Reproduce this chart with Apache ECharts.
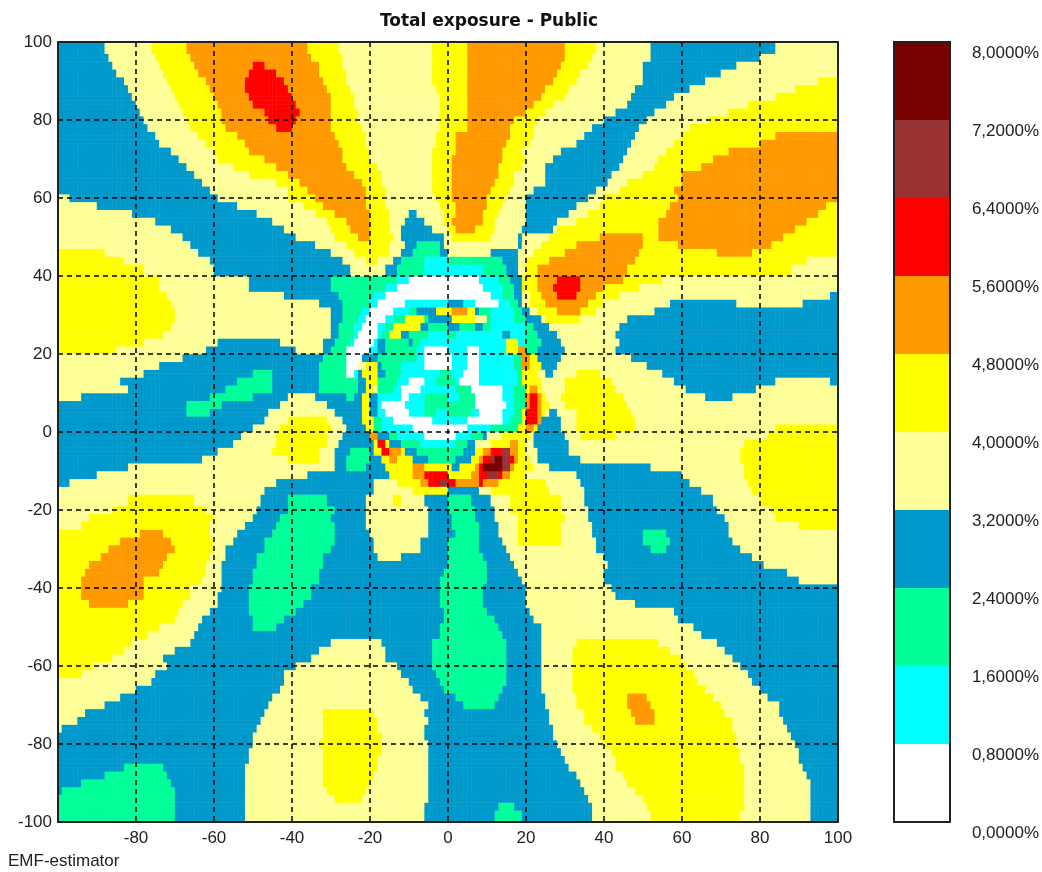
<!DOCTYPE html>
<html>
<head>
<meta charset="utf-8">
<script src="https://cdn.jsdelivr.net/npm/echarts@6/dist/echarts.min.js"></script>
<style>html,body{margin:0;padding:0;background:#fff}#c{width:1042px;height:872px}</style>
</head>
<body>
<div id="c"></div>
<script>
// Band letters and colours used by the row strings
const bandLetters = ["W","C","G","B","P","Y","O","R","M","D"];
const bandColors = ["#FFFFFF","#00FFFF","#00FF99","#0099CC","#FFFF99","#FFFF00","#FF9900","#FF0000","#993333","#770000"];
const bandWidth = 0.8;
const titleText = "Total exposure - Public";
const footerText = "EMF-estimator";
// Each row: "top y of the row: band + x where the run ends ..."
const rows = [
"100: B-87.5 P-76 Y-66.5 O-36 Y-28 P-4 Y5 O30 Y38 P52 B84 P",
"97: B-87 P-75 Y-65.5 O-34.5 Y-27 P-4 Y5 O29.7 Y37 P52 B80 P",
"95: B-86 P-74 Y-64.5 O-50 R-46.5 O-33 Y-26.5 P-4 Y5 O29 Y36 P50 B74 P",
"93: B-84.5 P-73 Y-63.5 O-51 R-43.5 O-32.5 Y-26 P-4 Y5 O28 Y34.5 P50.5 B70 P",
"91: B-83 P-72 Y-62 O-51.6 R-42 O-31.5 Y-25.5 P-4 Y5 O27 Y33 P50 B66 P95 Y",
"89: B-82 P-71 Y-61 O-51.5 R-41 O-31 Y-25 P-3 Y5 O25.5 Y31.5 P48 B62 P89 Y",
"87: B-81 P-70 Y-60 O-50.8 R-40 O-30 Y-24 P-2 Y5 O24 Y30 P47 B58 P84 Y",
"85: B-80 P-69 Y-59 O-50 R-39 O-30 Y-24 P-2 Y5 O22 Y27.5 P46 B56 P77 Y",
"83: B-79.4 P-68 Y-58 O-47.4 R-38.4 O-29.5 Y-23 P-1.5 Y5 O20 Y24.6 P43.5 B53 P72 Y",
"81: B-78 P-67 Y-57.5 O-46 R-38.5 O-29.5 Y-22.5 P-2 Y5 O17.3 Y23 P40 B51 P67.5 Y",
"79: B-77 P-66 Y-57 O-44 R-40 O-29.5 Y-22 P-2 Y5 O16 Y22 P37 B49 P62 Y",
"77: B-74.7 P-63.5 Y-54 O-28.5 Y-21 P-3 Y2.5 O15.6 Y22 P35 B48 P60 Y84 O",
"75: B-73.5 P-62 Y-52 O-28 Y-21 P-3 Y2 O15 Y21 P33 B47 P58 Y80 O",
"73: B-71 P-60 Y-50.8 O-27 Y-20 P-4 Y2 O14.4 Y19.5 P29 B46.4 P56 Y72.5 O",
"71: B-69 P-58.5 Y-47 O-27 Y-19.6 P-4 Y1.5 O14 Y20 P27 B45.5 P54 Y68 O",
"69: B-67 P-54.6 Y-44 O-26.4 Y-18 P-4 Y1 O13.5 Y18.6 P25.5 B44 P53 Y65 O",
"67: B-65 P-51 Y-40.5 O-24 Y-16.5 P-4 Y1 O13 Y17.5 P25 B42 P50 Y60 O",
"65: B-62.7 P-44 Y-38 O-21.7 Y-16.6 P-4 Y1 O12 Y17 P24.6 B41 P46.4 Y60 O",
"63: B-61 P-41 Y-36 O-21 Y-16 P-4 Y1 O11 Y16 P22 B38 P44 Y58.5 O",
"61: P-97 B-58.5 P-40.5 Y-34 O-21 Y-15.7 P-3 Y1 O10 Y15 P20 B36.5 P40 Y59 O",
"59: P-90 B-54 P-37 Y-32 O-21 Y-15.5 P-2 Y2 O10 Y14 P20 B33 P39 Y57 O97 Y",
"57: P-80.7 B-48.6 P-33.6 Y-28.7 O-20 Y-15 P-10 B-7.5 P-1 Y2 O9.5 Y13.5 P20 B31 P36 Y56 O95 Y",
"55: P-74.7 B-45 P-31 Y-26 O-20 Y-15 P-11 B-6 P-0.5 Y1.5 O9 Y12.5 P20 B28 P33 Y54.5 O92 Y",
"53: P-71 B-41.5 P-29.6 Y-24.5 O-20 Y-14.6 P-11.5 B-4 P0 Y2 O7.5 Y12 P19.5 B26.7 P28 Y54 O89 Y",
"51: P-68 B-38.5 P-29 Y-23 O-20 Y-14 P-12 B-1 P1 Y11 P18.5 B19.5 P26 Y39 O50 Y54 O86 Y",
"49: P-66 B-33.7 P-26 Y-15 P-11 B-8 G-2 B-1 P18.5 B19 P24 Y33 O50.5 Y59 O83 Y",
"47: Y-88 P-64 B-30 P-23.5 Y-15.4 P-12 B-9 G-2 B0 P11 B18.5 P22 Y30.5 O49 Y69 O78 Y",
"45: Y-83 P-61 B-27 P-20.5 Y-17.5 P-14 B-12 G-5.5 C0 G14 B18.5 P20 Y26 O48 Y92 P",
"43: Y-78 P-60 B-25 P-16 B-13 G-6 C9 G15 B18.5 P20 Y23 O46.5 Y88 P",
"40: Y-74 P-51 B-30 G-12.7 C-10.2 W7.7 C12.8 G15.8 B19.2 Y23 O27.8 R34 O45 Y55 P",
"38: Y-74 P-51 B-30 G-16 C-13 W9.4 C13.7 G16.7 B19.2 Y23 O27.4 R34 O40 Y49 P",
"36: Y-72 P-41.5 B-27.7 G-18.5 C-16 W11.5 C14 G17.5 B19.2 P21.4 Y24 O28.5 R33 O38 Y44 P98 B",
"34: Y-71 P-33 B-27 G-20.4 C-17.5 W-11 C0.5 B4.3 C7 W13 C15.8 G18 B19.5 P21.5 Y25 O36 Y40 P57 B74 P91 B",
"32: Y-70 P-29.5 B-27.3 G-21.7 C-19.6 W-14 C-10 G-7.5 B-2.5 Y1.5 O4.7 Y7.3 B8.5 G11.5 C17.5 G19.2 B21.4 P23 Y28 O34 Y38 P53 B",
"30: Y-70 P-30 B-27 G-23 C-21 W-16 C-14 G-10.5 Y-6 G-4.5 B1 Y6.8 P9.8 B10.5 G11.5 C17 G20.5 B24 P25 Y34 P46 B",
"28: Y-71 P-30 B-27.7 G-24 C-22 W-17.5 C-16 G-14 Y-7 B-4.5 G0 B3.4 G6.8 B9.4 G11 C20 G22 B26 P44 B",
"26: Y-73 P-30 B-28 G-24.3 C-23 W-18 C-16.5 G-15 Y-11.5 B-9.5 G-4.5 C0 G1.7 C14 B16 C20 G23 B27.8 P43 B",
"24: Y-78 P-59 B-43 P-32 B-29 G-25 C-24 W-19 C-17.5 B-16 G-10 B-8.5 G-6.5 C15.4 Y18.4 C20 G24 B29.5 P44 B",
"22: Y-85 P-62 B-39 P-32 B-30 G-25.5 W-20 C-18 B-15.5 G-8 C-5.5 W0 C5.1 W7.7 C15.4 Y18.4 O20 G23 B30 P43 B",
"20: P-68 B-32 G-26 W-21.7 B-18 G-8 C-6 W0.9 C5.1 W8 C17 G19.2 O21.4 Y23 B28.6 P47 B",
"18: P-74 B-33 G-26 W-23 P-21.3 Y-18.3 B-16.6 G-11.5 C-6 W1.3 C4.7 W8 C17.5 G19.2 O21.4 Y24.4 B28.2 P51 B",
"16: P-78 B-50 G-45 B-33 G-26 W-24 C-23 B-21.7 Y-18.3 B-16 G-12 C-2 G1.3 C3.8 W8.5 C18 G19.2 Y23.5 P24.8 B27 P33 Y39 P55 B",
"14: P-84 B-54 G-45 B-33 G-22.5 B-21.3 Y-18.3 G-13 C-9.7 W-6.3 C-3 G2 C3.4 W8.5 C18 G19.2 Y24.4 P30.5 Y42 P58 B84 P98 B",
"12: P-81.5 B-56.5 G-45 B-33 G-23 B-21.3 Y-19 P-18.3 B-18 G-13.6 C-12 W-6.7 C1.7 G6.4 W14 C17.5 G19.6 Y21 O23 Y24.4 P30 Y43.5 P61 B79 P",
"10: P-93.5 B-61 G-50 B-40.5 P-33.5 B-26.4 G-24 B-21.7 Y-19.6 B-18.3 C-12.3 W-10 C-6 G0 C3 G7.3 W14.5 C17.5 G19.6 O21.4 R23 O24.4 Y25.2 P29 Y45 P66 B73 P",
"8: B-67 G-58 B-43 P-31 B-22 Y-19.6 B-18.3 C-16.6 W-11 C-6 G7.3 W15 C17.5 G19.6 O21 R23 O24.4 Y25.6 P30 Y46 P",
"6: B-67 G-61 B-46 P-28.5 B-21.7 Y-19.6 B-18.3 C-16.2 W-10 C-6 G-3 C0 G6 C8.5 W14.5 C17 G19.2 Y20 R23 O24.4 Y25.2 P25.6 B28.2 P33 Y47 P",
"4: B-47 P-41 Y-31 P-27.3 B-21.7 Y-19 G-17.4 C-13.6 W-4.2 C5 W13.7 C16.2 G18.8 Y20 R22.6 O24 Y24.4 B29 P33 Y48 P",
"2: B-50 P-43 Y-30 P-26.4 B-21.3 Y-19 G-16.6 C-9 W5.1 C11 G18 Y20 O22 Y23.5 B29.5 P33 Y48 P83.6 Y",
"0: B-52.5 P-44 Y-31 P-27.3 B-20.2 O-18.3 Y-17.5 B-15.3 G-13 C-5.5 W2.5 C6.4 G9.4 B10.5 P14.5 Y21 P22.2 B30.5 P34.5 Y43 P82 Y",
"-2: B-54.6 P-44 Y-31 P-28.1 B-19 Y-18.3 R-15.7 Y-14.5 B-11.5 G-6.7 C2.5 G5 B6.8 P11 Y16.2 O18.3 Y20 P22 B31 P76 Y",
"-4: B-58.6 P-44.6 Y-32.5 P-29 B-25 G-20.4 B-18.7 Y-17.4 R-15 O-12.3 Y-11 B-8 G3.8 B6.8 Y9.4 O11 R14 M15.8 R16.5 O18.3 Y20 P22.6 B31 P75.5 Y",
"-6: B-63 P-40.5 Y-33 P-28.5 B-25.6 G-20.4 B-17.4 Y-14.9 O-12.7 Y-8.9 B-4.6 G2.5 B6.4 Y8.5 O9.4 R11 M12 D14 M16 R17 O18.3 Y21 P23 B33.6 P75 Y",
"-8: B-81.5 P-29.4 B-25.6 G-21.3 B-16 Y-9.3 O-6 Y1 B3.4 Y6.8 O8.1 R9.4 D14.5 M16.2 O17 Y22 P26 B52 P76 Y",
"-10: B-90 P-36 B-14.5 Y-8.5 O-6 R0.5 Y6.4 O8.1 R10.3 M12.8 R14 O16.2 Y20.5 P33 B60 P76 Y",
"-12: B-97 P-44 B-19 P-13 Y-7.2 O-4.6 R-2 M0.5 R2.1 O8.1 R9.4 O12.8 Y24.6 P34.5 B62.5 P77 Y",
"-14: P-46.5 B-19 P-9 Y0.5 B8 P11 Y26 P35 B65 P78 Y",
"-16: P-81.5 Y-64.5 P-48 B-40.5 G-31 B-21 P-13.5 Y-11.5 P-5.5 B0 G6 B11 P16 Y29 P35 B68 P80 Y",
"-19: P-86 Y-62 P-48.6 B-41 G-29 B-21 P-5 B0.5 G7 B12 P16.5 Y29.3 P36 B68.8 P83 Y",
"-21: P-92 Y-60 P-50 B-43 G-29.5 B-21 P-5 B1 G7.5 B12.5 P18 Y30 P36.5 B71 P84.5 Y",
"-23: P-94 Y-60.7 P-51.6 B-44 G-29 B-20.5 P-5.3 B1.5 G8 B13 P17.7 Y29 P37 B71.6 P89.6 Y",
"-25: Y-79 O-73 Y-60.5 P-54 B-44.5 G-29 B-20 P-5 B2 G8 B13.5 P18.5 Y29.5 P37.5 B50 G56.5 B72.5 P",
"-27: Y-83.7 O-71.3 Y-60 P-55 B-47 G-29 B-19 P-6.5 B0.5 G8 B14.5 P18.5 Y29 P38 B50.5 G57 B73 P",
"-29: Y-87 O-70 Y-60 P-56.5 B-47 G-30 B-19 P-7 B0 G8 B15 P38.5 B52.5 G56 B75.5 P",
"-31: Y-89 O-71.7 Y-60.5 P-57 B-49 G-32 B-17.5 P-11.5 B0 G9 B16.5 P40 B78 P",
"-33: Y-91.5 O-73 Y-62 P-57.5 B-49 G-32 B0 G10 B17.5 P41.5 B81.5 P",
"-35: Y-93 O-74.3 Y-62 P-58 B-49.7 G-33 B-1 G10 B18.5 P40.5 B87 P",
"-37: Y-93.5 O-78 Y-63 P-58 B-50 G-33 B-2 G10 B19.5 P40 B90 P",
"-39: Y-94 O-77.7 Y-66 P-58 B-50.5 G-35 B-2 G9.5 B20 P42 B",
"-41: Y-94 O-78 Y-66 P-58.5 B-50.5 G-35 B-2 G9 B20 P43 B",
"-43: Y-92 O-82.4 Y-67.7 P-59 B-50.5 G-37 B-1.5 G9.5 B20.5 P47.7 B",
"-45: Y-69 P-61 B-50.5 G-38.5 B-1 G10 B21 P58 B",
"-47: Y-70.4 P-62.5 B-50 G-41.5 B-1 G12 B22 P59 B",
"-49: Y-74 P-63.5 B-49.5 G-43.5 B-1.5 G13 B24 P63 B",
"-51: Y-77 P-64.5 B-2 G14 B24 P65.5 B",
"-53: Y-81 P-66 B-30 P-16.5 B-4 G15 B24.5 P33 Y54 P69 B",
"-55: Y-83 P-70 B-33 P-16 B-4 G15.5 B24.5 P32.5 Y57 P71.5 B",
"-57: Y-86 P-73 B-35.4 P-15.5 B-4 G15.5 B24.5 P32 Y60 P73.5 B",
"-59: Y-91.4 P-71.7 B-38.5 P-13 B-3.5 G15.5 B24.5 P32 Y61.5 P75.5 B",
"-61: Y-94 P-74.5 B-41.5 P-11.5 B-3 G15.5 B24.5 P32 Y63 P77 B",
"-63: P-76 B-42 P-10 B-2 G15 B24.5 P32 Y64.5 P78.5 B",
"-65: P-80 B-43 P-9 B-0.5 G14.5 B24.5 P32 Y66 P80 B",
"-67: P-83.7 B-44.8 P-7 B2 G13.5 B25 P33 Y46.5 O51 Y68 P82.5 B",
"-69: P-87.5 B-46 P-4.5 B4.5 G12.5 B25 P33.5 Y46 O52 Y70.5 P85 B",
"-71: P-92.6 B-47 P-31.5 Y-19 P-6 B26 P35 Y47.5 O53 Y71.5 P85.5 B",
"-73: P-95 B-47.5 P-32 Y-18 P-5 B26.5 P35 Y48 O53 Y73 P86.5 B",
"-75: P-99 B-48.5 P-32 Y-17.5 P-5.5 B27 P37.5 Y73.5 P87 B",
"-77: B-49.5 P-32 Y-17 P-5.5 B27.5 P39 Y74 P88 B",
"-79: B-50 P-32.5 Y-17 P-5 B28.5 P40.5 Y74.5 P89.5 B",
"-81: B-51 P-32 Y-17 P-5 B29 P42 Y75 P90 B",
"-83: B-51 P-32 Y-17.5 P-5 B30 P43 Y75 P90.5 B",
"-85: B-83 G-72.5 B-51.5 P-32 Y-18 P-5 B31 P43 Y76 P91 B",
"-87: B-88 G-71.7 B-51.5 P-32 Y-19 P-5 B33 P45 Y76 P92 B",
"-89: B-94 G-70.5 B-51.5 P-32 Y-20 P-5 B34 P46 Y76 P93 B",
"-91: B-98.6 G-70 B-51.5 P-31 Y-21 P-5 B35 P48 Y76 P93 B",
"-93: G-69.5 B-51.5 P-28.5 Y-22 P-5 B36 P50 Y76 P93.5 B",
"-95: G-69.5 B-51.5 P-5.5 B13.5 G17 B37 P51 Y76 P93 B",
"-97: G-69.5 B-51.5 P-6 B12 G19 B37 P52 Y75 P93 B"
];

// Table the library needs: one cell per 1x1 unit, value = middle of the band
const xCats = [], yCats = [];
for (let i = 0; i < 200; i++) { xCats.push(String(-99.5 + i)); yCats.push(String(-99.5 + i)); }
const parsed = rows.map(s => {
  const [top, runs] = s.split(":");
  return { top: Number(top), runs: runs.trim().split(" ").map(t => ({
    band: bandLetters.indexOf(t[0]), end: t.length > 1 ? parseFloat(t.slice(1)) : 1000 })) };
});
const cells = [];
yCats.forEach((yc, yi) => {
  const y = Number(yc);
  let r = parsed[parsed.length - 1];
  for (const p of parsed) { if (y <= p.top) r = p; else break; }
  xCats.forEach((xc, xi) => {
    const x = Number(xc);
    const run = r.runs.find(q => x < q.end) || r.runs[r.runs.length - 1];
    cells.push([xi, yi, (run.band + 0.5) * bandWidth]);
  });
});

const tickFont = { fontFamily: "Liberation Sans", fontSize: 17, color: "#222" };
const frame = { lineStyle: { color: "#222", width: 2 } };
const chart = echarts.init(document.getElementById("c"), null, { renderer: "canvas" });
chart.setOption({
  animation: false,
  backgroundColor: "#fff",
  title: [
    { text: titleText, left: 484, top: 8, textAlign: "center",
      textStyle: { fontFamily: "DejaVu Sans", fontWeight: "bold", fontSize: 17, color: "#111" } },
    { text: footerText, left: 3, top: 848,
      textStyle: { fontFamily: "Liberation Sans", fontWeight: "normal", fontSize: 17, color: "#222" } }
  ],
  grid: [
    { left: 58, top: 42, width: 780, height: 780 },
    { left: 894, top: 42, width: 56, height: 780 }
  ],
  xAxis: [
    { type: "value", gridIndex: 0, min: -100, max: 100, interval: 20, z: 10,
      axisLine: { show: true, onZero: false, ...frame }, axisTick: { show: false },
      axisLabel: { ...tickFont, margin: 8, formatter: v => (v === -100 ? "" : String(v)) },
      splitLine: { show: true, lineStyle: { color: "#000", type: [5, 4], width: 1.5 } } },
    { type: "category", gridIndex: 0, data: xCats, position: "top", z: 10,
      axisLine: { show: true, onZero: false, ...frame }, axisTick: { show: false },
      axisLabel: { show: false }, splitLine: { show: false } },
    { type: "category", gridIndex: 1, data: [""], position: "bottom", z: 10,
      axisLine: { show: true, onZero: false, ...frame }, axisTick: { show: false },
      axisLabel: { show: false }, splitLine: { show: false } },
    { type: "category", gridIndex: 1, data: [""], position: "top", z: 10,
      axisLine: { show: true, onZero: false, ...frame }, axisTick: { show: false },
      axisLabel: { show: false }, splitLine: { show: false } }
  ],
  yAxis: [
    { type: "value", gridIndex: 0, min: -100, max: 100, interval: 20, z: 10,
      axisLine: { show: true, onZero: false, ...frame }, axisTick: { show: false },
      axisLabel: { ...tickFont, margin: 6 },
      splitLine: { show: true, lineStyle: { color: "#000", type: [5, 4], width: 1.5 } } },
    { type: "category", gridIndex: 0, data: yCats, position: "right", z: 10,
      axisLine: { show: true, onZero: false, ...frame }, axisTick: { show: false },
      axisLabel: { show: false }, splitLine: { show: false } },
    { type: "value", gridIndex: 1, min: 0, max: 8, interval: 0.8, position: "right", z: 10,
      axisLine: { show: true, onZero: false, ...frame }, axisTick: { show: false },
      axisLabel: { ...tickFont, margin: 22, verticalAlign: "top", padding: [3, 0, 0, 0],
        formatter: v => v.toFixed(4).replace(".", ",") + "%" },
      splitLine: { show: false } },
    { type: "value", gridIndex: 1, min: 0, max: 8, position: "left", z: 10,
      axisLine: { show: true, onZero: false, ...frame }, axisTick: { show: false },
      axisLabel: { show: false }, splitLine: { show: false } }
  ],
  visualMap: {
    show: false, type: "piecewise", seriesIndex: 0, dimension: 2,
    pieces: bandColors.map((c, i) => ({ min: i * bandWidth, max: (i + 1) * bandWidth, color: c }))
  },
  series: [
    { type: "heatmap", xAxisIndex: 1, yAxisIndex: 1, data: cells, progressive: 0,
      itemStyle: { borderWidth: 0 }, emphasis: { disabled: true }, silent: true, z: 2 },
    ...bandColors.map(c => ({
      type: "bar", xAxisIndex: 2, yAxisIndex: 2, stack: "scale", barWidth: "100%", silent: true,
      data: [bandWidth], itemStyle: { color: c }
    }))
  ]
});
</script>
</body>
</html>
